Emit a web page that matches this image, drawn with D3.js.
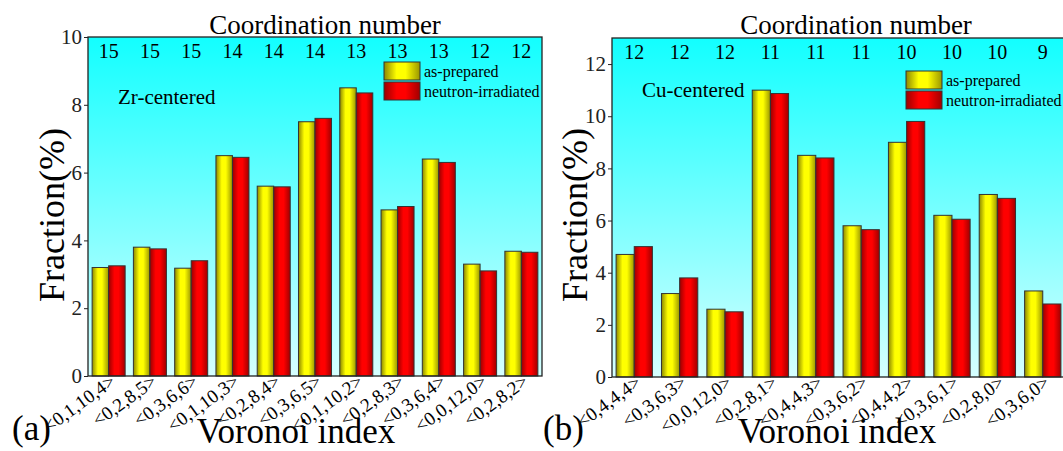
<!DOCTYPE html>
<html>
<head>
<meta charset="utf-8">
<script src="https://cdn.jsdelivr.net/npm/d3@7"></script>
<style>
  body { margin: 0; background: #fff; }
</style>
</head>
<body>
<svg width="1063" height="451"></svg>
<script>
// panel (a): Zr-centered
var zrIndex = ["<0,1,10,4>", "<0,2,8,5>", "<0,3,6,6>", "<0,1,10,3>", "<0,2,8,4>", "<0,3,6,5>",
               "<0,1,10,2>", "<0,2,8,3>", "<0,3,6,4>", "<0,0,12,0>", "<0,2,8,2>"];
var zrCoord = [15, 15, 15, 14, 14, 14, 13, 13, 13, 12, 12];
var zrPrepared = [3.2, 3.8, 3.18, 6.5, 5.6, 7.5, 8.5, 4.9, 6.4, 3.3, 3.68];
var zrIrradiated = [3.25, 3.75, 3.4, 6.45, 5.58, 7.6, 8.35, 5.0, 6.3, 3.1, 3.65];
var zrTicks = [0, 2, 4, 6, 8, 10];

// panel (b): Cu-centered
var cuIndex = ["<0,4,4,4>", "<0,3,6,3>", "<0,0,12,0>", "<0,2,8,1>", "<0,4,4,3>",
               "<0,3,6,2>", "<0,4,4,2>", "<0,3,6,1>", "<0,2,8,0>", "<0,3,6,0>"];
var cuCoord = [12, 12, 12, 11, 11, 11, 10, 10, 10, 9];
var cuPrepared = [4.7, 3.2, 2.6, 11.0, 8.5, 5.8, 9.0, 6.2, 7.0, 3.3];
var cuIrradiated = [5.0, 3.8, 2.5, 10.87, 8.4, 5.65, 9.8, 6.05, 6.85, 2.8];
var cuTicks = [0, 2, 4, 6, 8, 10, 12];

var seriesNames = ["as-prepared", "neutron-irradiated"];

var svg = d3.select("svg");
var defs = svg.append("defs");

var bg = defs.append("linearGradient").attr("id", "bgGrad")
    .attr("x1", 0).attr("y1", 0).attr("x2", 0).attr("y2", 1);
bg.append("stop").attr("offset", "0%").attr("stop-color", "#12ffff");
bg.append("stop").attr("offset", "100%").attr("stop-color", "#d6ffff");

function barGradient(id, dark, bright, dark2) {
    var g = defs.append("linearGradient").attr("id", id)
        .attr("x1", 0).attr("y1", 0).attr("x2", 1).attr("y2", 0);
    g.append("stop").attr("offset", "0%").attr("stop-color", dark);
    g.append("stop").attr("offset", "35%").attr("stop-color", bright);
    g.append("stop").attr("offset", "60%").attr("stop-color", bright);
    g.append("stop").attr("offset", "100%").attr("stop-color", dark2);
}
barGradient("yellowGrad", "#8c8800", "#ffff00", "#9a9600");
barGradient("redGrad", "#9a0000", "#ff0000", "#a00000");
var fills = ["url(#yellowGrad)", "url(#redGrad)"];

function drawPanel(p) {
    var g = svg.append("g");

    var x = d3.scaleBand().domain(p.index).range([p.left, p.bandRight])
        .paddingInner(0.2).paddingOuter(p.outer);
    var xs = d3.scaleBand().domain([0, 1]).range([0, x.bandwidth()]);
    var y = d3.scaleLinear().domain([0, p.ymax]).range([p.bottom, p.top]);

    g.append("rect")
        .attr("x", p.left).attr("y", p.top)
        .attr("width", p.right - p.left).attr("height", p.bottom - p.top)
        .attr("fill", "url(#bgGrad)");

    var rows = p.index.map(function(d, i) {
        return { key: d, coord: p.coord[i], vals: [p.prepared[i], p.irradiated[i]] };
    });

    var grp = g.selectAll(".grp").data(rows).enter().append("g")
        .attr("transform", function(d) { return "translate(" + x(d.key) + ",0)"; });

    grp.selectAll("rect").data(function(d) { return d.vals; }).enter().append("rect")
        .attr("x", function(d, i) { return xs(i); })
        .attr("y", function(d) { return y(d); })
        .attr("width", xs.bandwidth())
        .attr("height", function(d) { return p.bottom - y(d); })
        .attr("fill", function(d, i) { return fills[i]; })
        .attr("stroke", "#333")
        .attr("stroke-width", 1);

    // coordination numbers along the top
    grp.append("text")
        .attr("x", x.bandwidth() / 2)
        .attr("y", p.top + 21)
        .attr("text-anchor", "middle")
        .attr("font-size", 20)
        .text(function(d) { return d.coord; });

    // rotated Voronoi index labels
    grp.append("text")
        .attr("transform", "translate(" + (x.bandwidth() / 2 + 8) + "," + (p.bottom + 8) + ") rotate(-36)")
        .attr("text-anchor", "end")
        .attr("font-size", 19)
        .text(function(d) { return d.key; });

    g.append("rect")
        .attr("x", p.left).attr("y", p.top)
        .attr("width", p.right - p.left).attr("height", p.bottom - p.top)
        .attr("fill", "none").attr("stroke", "#222").attr("stroke-width", 1.3);

    var yAxis = g.append("g")
        .attr("transform", "translate(" + p.left + ",0)")
        .call(d3.axisLeft(y).tickValues(p.ticks).tickSize(4).tickPadding(2));
    yAxis.attr("font-size", 21);
    yAxis.select(".domain").remove();
    yAxis.selectAll("text").attr("fill", "#222");
    yAxis.selectAll("line").attr("stroke", "#222");

    g.append("text")
        .attr("x", p.titleX).attr("y", 34)
        .attr("text-anchor", "middle").attr("font-size", 27)
        .text("Coordination number");

    g.append("text")
        .attr("x", p.left + 30).attr("y", p.labelY)
        .attr("font-size", 21)
        .text(p.label);

    g.append("text")
        .attr("transform", "translate(" + p.yLabelX + ",215) rotate(-90)")
        .attr("text-anchor", "middle").attr("font-size", 36)
        .text("Fraction(%)");

    g.append("text")
        .attr("x", p.xLabelX).attr("y", 443)
        .attr("text-anchor", "middle").attr("font-size", 35)
        .text("Voronoi index");

    g.append("text")
        .attr("x", p.tagX).attr("y", 440)
        .attr("font-size", 35)
        .text(p.tag);

    // legend
    seriesNames.forEach(function(name, i) {
        g.append("rect")
            .attr("x", p.legX).attr("y", p.legY + i * 20)
            .attr("width", 36).attr("height", 18)
            .attr("fill", fills[i]).attr("stroke", "#333");
        g.append("text")
            .attr("x", p.legX + 40).attr("y", p.legY + i * 20 + 15)
            .attr("font-size", 16)
            .text(name);
    });
}

drawPanel({
    index: zrIndex, coord: zrCoord, prepared: zrPrepared, irradiated: zrIrradiated, ticks: zrTicks,
    ymax: 10, left: 88, right: 542, bandRight: 542, outer: 0.1, top: 37, bottom: 376,
    titleX: 325, label: "Zr-centered", labelY: 104, yLabelX: 64, xLabelX: 296, tag: "(a)", tagX: 12,
    legX: 384, legY: 62
});

drawPanel({
    index: cuIndex, coord: cuCoord, prepared: cuPrepared, irradiated: cuIrradiated, ticks: cuTicks,
    ymax: 13, left: 612, right: 1070, bandRight: 1065, outer: 0.09, top: 38, bottom: 377,
    titleX: 856, label: "Cu-centered", labelY: 97, yLabelX: 587, xLabelX: 837, tag: "(b)", tagX: 543,
    legX: 906, legY: 71
});

// serif everywhere (the axis sets its own sans-serif attribute)
svg.selectAll("text").style("font-family", "'Liberation Serif', 'Times New Roman', Tinos");
</script>
</body>
</html>
